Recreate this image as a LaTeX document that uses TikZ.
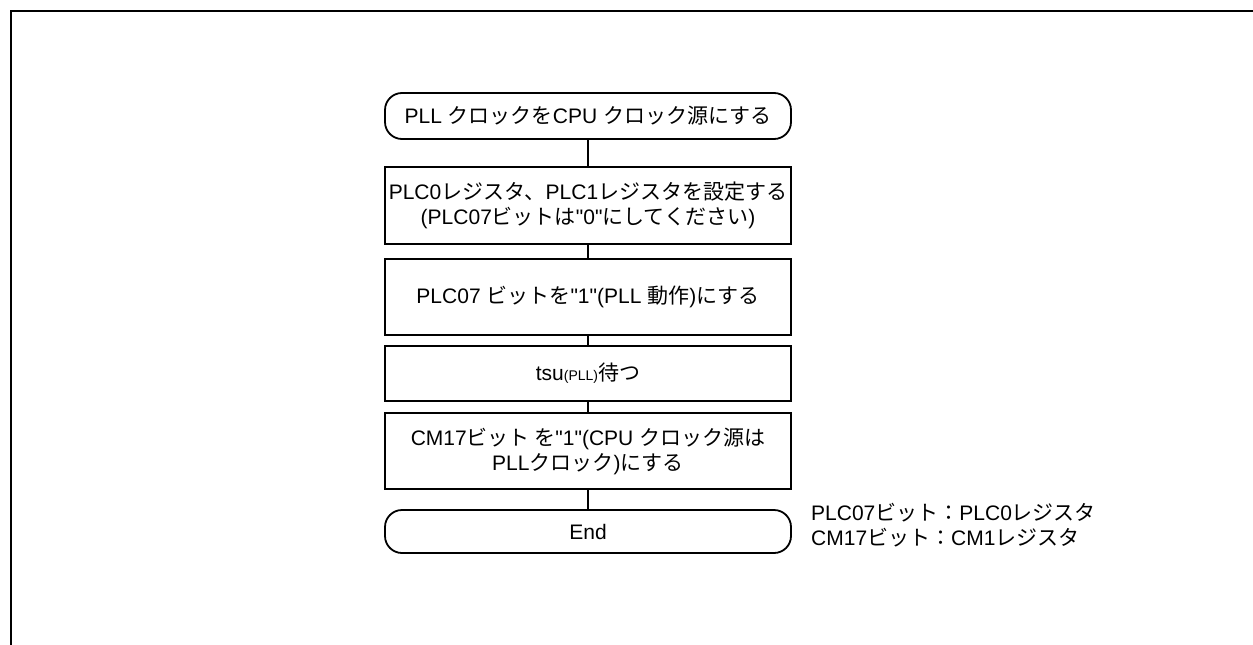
\documentclass[tikz,border=0pt]{standalone}
\usepackage{fontspec}
\setmainfont{Liberation Sans}[Ligatures=TeXOff]
\newfontfamily\cjk{Noto Sans CJK JP}
\newcommand\J[1]{{\cjk #1}}
\begin{document}
\begin{tikzpicture}[x=1pt,y=-1pt,
  every node/.style={font=\fontsize{21}{25}\selectfont, align=center, inner sep=1pt},
  stepbox/.style={draw, line width=1.8pt, minimum width=406pt},
  termbox/.style={stepbox, rounded corners=17pt},
  conn/.style={line width=1.8pt}]
\useasboundingbox (0,0) rectangle (1253,645);
\draw[line width=2.8pt] (1253,11) -- (11,11) -- (11,645);
\node[termbox, minimum height=46pt] (s) at (588,116) {PLL \J{クロックを}CPU \J{クロック源にする}};
\node[stepbox, minimum height=77pt] (b1) at (588,205.5) {PLC0\J{レジスタ、}PLC1\J{レジスタを設定する}\\(PLC07\J{ビットは}"0"\J{にしてください})};
\node[stepbox, minimum height=76pt] (b2) at (588,297) {PLC07 \J{ビットを}"1"(PLL \J{動作})\J{にする}};
\node[stepbox, minimum height=55pt] (b3) at (588,373.5) {tsu{\fontsize{14}{16}\selectfont(PLL)}\J{待つ}};
\node[stepbox, minimum height=76pt] (b4) at (588,451) {CM17\J{ビット を}"1"(CPU \J{クロック源は}\\PLL\J{クロック})\J{にする}};
\node[termbox, minimum height=43pt] (e) at (588,531.5) {End};
\node[anchor=west, align=left] (n) at (810,525) {PLC07\J{ビット：}PLC0\J{レジスタ}\\CM17\J{ビット：}CM1\J{レジスタ}};
\draw[conn] (s) -- (b1);
\draw[conn] (b1) -- (b2);
\draw[conn] (b2) -- (b3);
\draw[conn] (b3) -- (b4);
\draw[conn] (b4) -- (e);
\end{tikzpicture}
\end{document}
